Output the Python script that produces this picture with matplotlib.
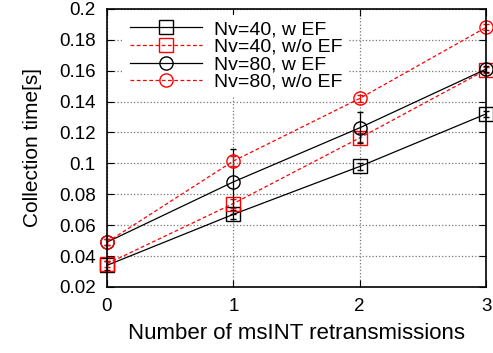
import matplotlib
matplotlib.use("Agg")
import matplotlib.pyplot as plt
import numpy as np

plt.rcParams['font.family'] = ['Liberation Sans', 'DejaVu Sans']

retrans = [0, 1, 2, 3]
nv40_ef = [0.034, 0.067, 0.098, 0.132]
nv40_noef = [0.035, 0.074, 0.1165, 0.1605]
nv80_ef = [0.049, 0.088, 0.123, 0.161]
nv80_noef = [0.049, 0.1015, 0.142, 0.188]
# error bar half-widths (rough)
err40_ef = [0.003, 0.003, 0.002, 0.002]
err40_noef = [0.002, 0.003, 0.003, 0.002]
err80_ef = [0.002, 0.021, 0.01, 0.002]
err80_noef = [0.002, 0.003, 0.002, 0.002]

fig = plt.figure(figsize=(4.93, 3.53), dpi=100)
ax = fig.add_axes([0.217, 0.187, 0.769, 0.788])

series = [
    (nv40_ef, err40_ef, 'black', '-', 's', 'Nv=40, w EF'),
    (nv40_noef, err40_noef, 'red', '--', 's', 'Nv=40, w/o EF'),
    (nv80_ef, err80_ef, 'black', '-', 'o', 'Nv=80, w EF'),
    (nv80_noef, err80_noef, 'red', '--', 'o', 'Nv=80, w/o EF'),
]
for vals, err, col, ls, mk, lab in series:
    ax.errorbar(retrans, vals, yerr=err, fmt='none', ecolor=col,
                elinewidth=0.9, capsize=2.5, clip_on=False)
    ln, = ax.plot(retrans, vals, color=col, lw=0.9, marker=mk, ms=9.5,
                  mfc='none', mec=col, mew=1.0, label=lab, clip_on=False)
    if ls == '--':
        ln.set_dashes((3, 2))

ax.set_xlim(0, 3)
ax.set_ylim(0.02, 0.2)
ax.set_xticks(retrans)
ax.set_yticks(np.arange(0.02, 0.201, 0.02))
ax.set_yticklabels(['0.02', '0.04', '0.06', '0.08', '0.1', '0.12', '0.14',
                    '0.16', '0.18', '0.2'])
ax.tick_params(direction='in', top=True, right=True, labelsize=13.5,
               length=5, pad=8)
ax.grid(True, ls=':', color='#777777', lw=0.9)
ax.set_axisbelow(True)
for s in ax.spines.values():
    s.set_linewidth(1.2)

ax.set_xlabel('Number of msINT retransmissions', fontsize=16, labelpad=6)
ax.set_ylabel('Collection time[s]', fontsize=15, labelpad=12)

leg = ax.legend(loc='upper left', fontsize=14, frameon=True, fancybox=False,
                handlelength=3.7, handletextpad=0.6, labelspacing=0.0,
                borderaxespad=0.3, borderpad=0.3,
                bbox_to_anchor=(0.03, 1.0))
leg.get_frame().set_edgecolor('none')
leg.get_frame().set_facecolor('white')
leg.get_frame().set_alpha(1)

fig.savefig('out.png', dpi=100)
